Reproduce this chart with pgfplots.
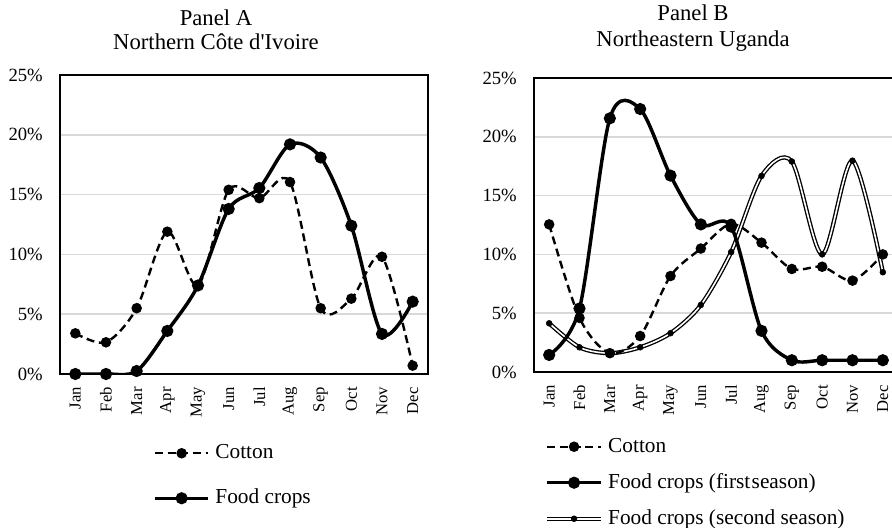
\documentclass[border=0pt]{standalone}
\usepackage{pgfplots}
\pgfplotsset{compat=1.18}
\usepackage{fontspec}
\setmainfont{Liberation Serif}[Ligatures=TeXOff]
\definecolor{gridgray}{HTML}{D9D9D9}

\pgfplotsset{
  panel/.style={
    scale only axis,
    xmin=-0.5, xmax=11.5, ymin=0, ymax=25,
    xtick={0,...,11},
    xticklabels={Jan,Feb,Mar,Apr,May,Jun,Jul,Aug,Sep,Oct,Nov,Dec},
    ytick={0,5,10,15,20,25},
    yticklabel={\pgfmathprintnumber{\tick}\%},
    /pgf/number format/assume math mode=true,
    major tick length=0pt,
    ymajorgrids,
    grid style={draw=gridgray, line width=1.1pt},
    axis line style={line width=1.5pt},
    xticklabel style={rotate=90, anchor=east, inner sep=0pt, font=\fontsize{12.5}{14}\selectfont},
    yticklabel style={anchor=east, inner sep=0pt, font=\fontsize{14}{16}\selectfont},
    xticklabel shift=9.75pt,
    yticklabel shift=12.75pt,
    legend style={draw=none, fill=none, inner sep=0pt, column sep=4pt,
      font=\fontsize{16}{18}\selectfont,
      nodes={inner sep=0pt, text height=12pt, text depth=4pt}},
    legend cell align=left,
    legend image code/.code={\draw[mark repeat=2,mark phase=2,##1] plot coordinates {(0pt,0pt) (20pt,0pt) (40pt,0pt)};},
  },
  cotton/.style={black, line width=1.8pt, dash pattern=on 6pt off 3.5pt, smooth, mark=*, mark size=3pt, mark options={solid, fill=black}},
  food/.style={black, line width=2.6pt, smooth, mark=*, mark size=3.2pt, mark options={solid, fill=black}},
}

\begin{document}
\begin{tikzpicture}
\path[use as bounding box] (0,0) rectangle (669pt,396pt);

\node[anchor=base, font=\fontsize{17}{19}\selectfont] at (162pt,376.5pt) {Panel A};
\node[anchor=base, font=\fontsize{17}{19}\selectfont] at (162pt,358.5pt) {Northern Côte d'Ivoire};
\node[anchor=base, font=\fontsize{17}{19}\selectfont] at (519.75pt,380.25pt) {Panel B};
\node[anchor=base, font=\fontsize{17}{19}\selectfont] at (519.75pt,360.75pt) {Northeastern Uganda};

% Panel A
\begin{axis}[panel,
  at={(45pt,115.5pt)}, anchor=south west,
  width=276pt, height=224.25pt,
  legend style={at={(0.2527,-0.2285)}, anchor=north west, row sep=17.75pt},
]
\addplot[cotton] coordinates {
 (0,3.4) (1,2.65) (2,5.5) (3,11.9) (4,7.4) (5,15.4) (6,14.7) (7,16.05) (8,5.5) (9,6.3) (10,9.8) (11,0.7)};
\addlegendentry{Cotton}
\addplot[food] coordinates {
 (0,0) (1,0) (2,0.25) (3,3.6) (4,7.4) (5,13.8) (6,15.55) (7,19.2) (8,18.1) (9,12.4) (10,3.35) (11,6.05)};
\addlegendentry{Food crops}
\end{axis}

% Panel B
\begin{axis}[panel,
  at={(400.5pt,117pt)}, anchor=south west,
  width=273pt, height=220.5pt,
  legend style={at={(0.0302,-0.217)}, anchor=north west, row sep=11pt},
]
\addplot[black, line width=3.2pt, smooth, forget plot] coordinates {
 (0,4.14) (1,2.1) (2,1.6) (3,2.1) (4,3.3) (5,5.7) (6,10.2) (7,16.67) (8,17.9) (9,10.0) (10,17.97) (11,8.48)};
\addplot[white, line width=1.2pt, smooth, forget plot] coordinates {
 (0,4.14) (1,2.1) (2,1.6) (3,2.1) (4,3.3) (5,5.7) (6,10.2) (7,16.67) (8,17.9) (9,10.0) (10,17.97) (11,8.48)};
\addplot[only marks, mark=*, mark size=2.2pt, black, forget plot] coordinates {
 (0,4.14) (1,2.1) (2,1.6) (3,2.1) (4,3.3) (5,5.7) (6,10.2) (7,16.67) (8,17.9) (9,10.0) (10,17.97) (11,8.48)};
\addplot[cotton] coordinates {
 (0,12.55) (1,4.6) (2,1.6) (3,3.06) (4,8.16) (5,10.5) (6,12.6) (7,11.0) (8,8.76) (9,8.95) (10,7.77) (11,10.0)};
\addlegendentry{Cotton}
\addplot[food] coordinates {
 (0,1.45) (1,5.4) (2,21.57) (3,22.36) (4,16.7) (5,12.55) (6,12.36) (7,3.5) (8,1.0) (9,1.0) (10,1.0) (11,1.0)};
\addlegendentry{Food crops (first\hspace{1pt}season)}
\addlegendimage{legend image code/.code={
  \draw[black, line width=3.2pt] (0pt,0pt) -- (40pt,0pt);
  \draw[white, line width=1.2pt] (0pt,0pt) -- (40pt,0pt);
  \fill[black] (20pt,0pt) circle (2.2pt);}}
\addlegendentry{Food crops (second season)}
\end{axis}
\end{tikzpicture}
\end{document}
